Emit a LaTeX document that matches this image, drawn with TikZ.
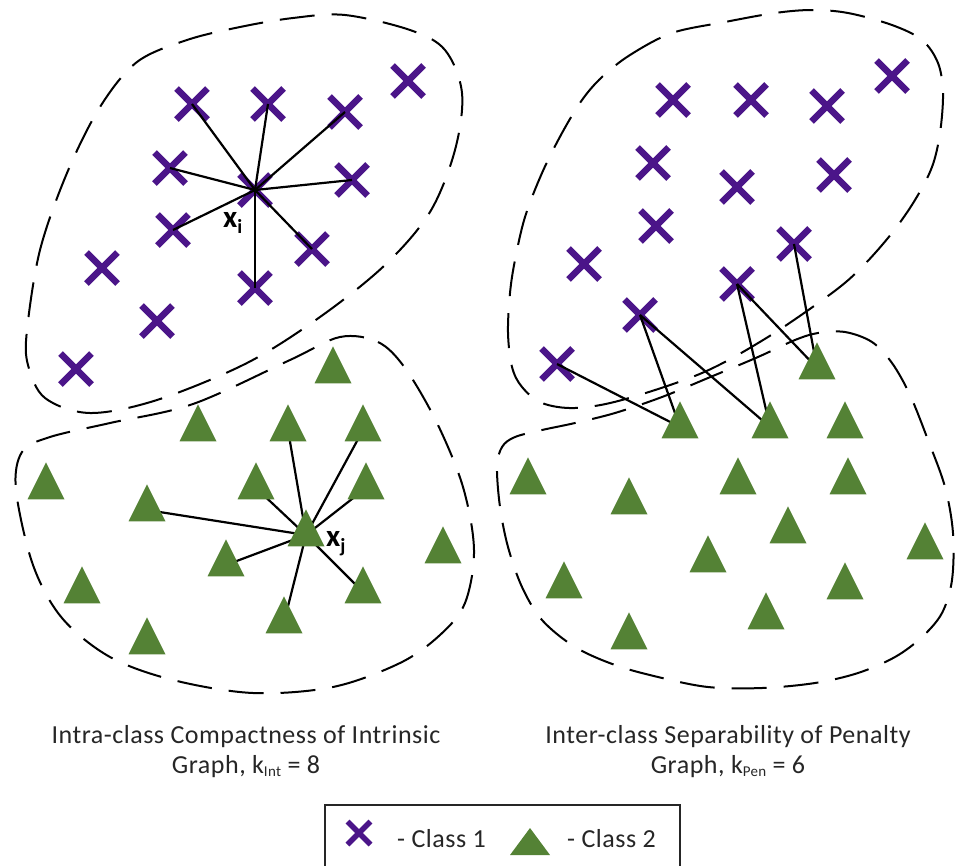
\documentclass[tikz,border=0pt]{standalone}
\usepackage{fontspec}
\setmainfont{Carlito}
\usetikzlibrary{shapes.misc,shapes.geometric}
\definecolor{classone}{HTML}{4B1589}
\definecolor{classtwo}{HTML}{548235}
\definecolor{inkgray}{HTML}{262626}
\pgfdeclarelayer{front}
\pgfsetlayers{main,front}

\begin{document}
\begin{tikzpicture}[x=1pt,y=-1pt,
  xmark/.style={cross out, draw=classone, line width=6.5pt, minimum size=31pt, inner sep=0pt, outer sep=0pt},
  tmark/.style={isosceles triangle, isosceles triangle stretches, shape border rotate=90,
    fill=classtwo, minimum width=37pt, minimum height=37pt, inner sep=0pt, outer sep=0pt},
  link/.style={draw=black, line width=2.2pt},
  region/.style={draw=black, line width=2pt, dash pattern=on 35pt off 17pt},
  caption/.style={font=\fontsize{26}{30}\selectfont\addfontfeature{LetterSpace=2}, text=inkgray, anchor=base, inner sep=0pt},
  ptlabel/.style={font=\fontsize{31}{31}\selectfont\bfseries, text=black, anchor=base west, inner sep=0pt},
  legtext/.style={font=\fontsize{26}{26}\selectfont\addfontfeature{LetterSpace=2}, text=inkgray, anchor=base west, inner sep=0pt}
]
\useasboundingbox (0,0) rectangle (955,865);
\clip (0,0) rectangle (955,865);

% ---- dashed class regions ----
\draw[region] plot[smooth cycle, tension=0.55] coordinates {
  (27,330) (40,250) (67,173) (100,107) (137,62) (187,40) (240,27) (293,18)
  (345,15) (410,30) (445,50) (462,93) (455,150) (430,212) (385,265) (320,317)
  (247,363) (157,400) (90,413) (45,398) (28,365)};
\draw[region] plot[smooth cycle, tension=0.55] coordinates {
  (340,337) (378,342) (405,368) (437,423) (463,487) (474,550) (465,603)
  (440,635) (400,663) (333,687) (253,693) (173,680) (110,657) (62,618)
  (33,565) (16,490) (22,452) (50,437) (110,423) (193,404) (290,360)};
\draw[region] plot[smooth cycle, tension=0.55] coordinates {
  (602,77) (630,55) (672,33) (725,22) (775,13) (812,10) (848,13) (892,25)
  (922,40) (938,63) (943,93) (940,133) (932,167) (915,200) (892,233)
  (862,267) (832,293) (768,337) (702,373) (622,400) (575,408) (542,403)
  (522,387) (512,367) (508,333) (510,293) (515,260) (525,217) (542,173)
  (562,133) (582,100)};
\draw[region] plot[smooth cycle, tension=0.55] coordinates {
  (818,333) (845,332) (872,342) (892,363) (910,395) (928,440) (945,487)
  (953,533) (952,580) (942,613) (922,637) (895,657) (858,673) (815,683)
  (762,688) (708,687) (658,677) (615,665) (575,647) (542,620) (522,587)
  (508,547) (500,507) (497,467) (502,447) (515,437) (542,430) (575,423)
  (615,413) (662,397) (708,378) (758,357) (795,340)};

% ---- class 1 samples, intrinsic graph ----
\node[xmark] (u1)  at (192,104) {};
\node[xmark] (u2)  at (268,104) {};
\node[xmark] (u3)  at (345,112) {};
\node[xmark] (u4)  at (408,81)  {};
\node[xmark] (u5)  at (170,168) {};
\node[xmark] (xi)  at (255,190) {};
\node[xmark] (u6)  at (352,180) {};
\node[xmark] (u7)  at (173,230) {};
\node[xmark] (u8)  at (312,249) {};
\node[xmark] (u9)  at (102,268) {};
\node[xmark] (u10) at (255,288) {};
\node[xmark] (u11) at (157,321) {};
\node[xmark] (u12) at (76,369)  {};

% ---- class 1 samples, penalty graph ----
\node[xmark] (r1)  at (673,100) {};
\node[xmark] (r2)  at (751,100) {};
\node[xmark] (r3)  at (827,106) {};
\node[xmark] (r4)  at (892,76)  {};
\node[xmark] (r5)  at (653,163) {};
\node[xmark] (r6)  at (737,187) {};
\node[xmark] (r7)  at (834,175) {};
\node[xmark] (r8)  at (656,226) {};
\node[xmark] (r9)  at (794,244) {};
\node[xmark] (r10) at (584,264) {};
\node[xmark] (r11) at (737,284) {};
\node[xmark] (r12) at (640,315) {};
\node[xmark] (r13) at (557,364) {};

% ---- class 2 samples (drawn above the edges) ----
\begin{pgfonlayer}{front}
\node[tmark] (l1)  at (333,372) {};
\node[tmark] (l2)  at (198,430) {};
\node[tmark] (l3)  at (288,430) {};
\node[tmark] (l4)  at (363,430) {};
\node[tmark] (l5)  at (46,488)  {};
\node[tmark] (l6)  at (256,488) {};
\node[tmark] (l7)  at (366,488) {};
\node[tmark] (l8)  at (147,510) {};
\node[tmark] (xj)  at (306,535) {};
\node[tmark] (l9)  at (443,552) {};
\node[tmark] (l10) at (226,565) {};
\node[tmark] (l11) at (82,592)  {};
\node[tmark] (l12) at (363,592) {};
\node[tmark] (l13) at (284,622) {};
\node[tmark] (l14) at (147,643) {};

\node[tmark] (s1)  at (817,368) {};
\node[tmark] (s2)  at (680,427) {};
\node[tmark] (s3)  at (770,427) {};
\node[tmark] (s4)  at (845,427) {};
\node[tmark] (s5)  at (528,483) {};
\node[tmark] (s6)  at (738,483) {};
\node[tmark] (s7)  at (848,483) {};
\node[tmark] (s8)  at (629,503) {};
\node[tmark] (s9)  at (788,532) {};
\node[tmark] (s10) at (925,548) {};
\node[tmark] (s11) at (708,561) {};
\node[tmark] (s12) at (564,587) {};
\node[tmark] (s13) at (845,588) {};
\node[tmark] (s14) at (766,618) {};
\node[tmark] (s15) at (629,638) {};
\end{pgfonlayer}

% ---- intrinsic graph edges, k = 8 ----
\foreach \n in {u1,u2,u3,u5,u6,u7,u8,u10}
  \draw[link] (xi.center) -- (\n.center);
\foreach \n in {l3,l4,l6,l7,l8,l10,l12,l13}
  \draw[link] (xj.center) -- (\n.center);

% ---- penalty graph edges, k = 6 ----
\draw[link] (r13.center) -- (s2.center);
\draw[link] (r12.center) -- (s2.center);
\draw[link] (r12.center) -- (s3.center);
\draw[link] (r11.center) -- (s3.center);
\draw[link] (r11.center) -- (s1.center);
\draw[link] (r9.center)  -- (s1.center);

% ---- point labels ----
\node[ptlabel] (lbli) at (223,227) {x\raisebox{-6pt}{\fontsize{20}{20}\selectfont\bfseries i}};
\node[ptlabel] (lblj) at (326,546) {x\raisebox{-6pt}{\fontsize{20}{20}\selectfont\bfseries j}};

% ---- captions ----
\node[caption] (capL1) at (246,743) {Intra-class Compactness of Intrinsic};
\node[caption] (capL2) at (246,773) {Graph, k\raisebox{-3pt}{\fontsize{15}{15}\selectfont Int} = 8};
\node[caption] (capR1) at (728,743) {Inter-class Separability of Penalty};
\node[caption] (capR2) at (728,773) {Graph, k\raisebox{-3pt}{\fontsize{15}{15}\selectfont Pen} = 6};

% ---- legend ----
\draw[draw=inkgray, line width=1.5pt] (325,805) rectangle (680,880);
\node[xmark, line width=5.5pt, minimum size=23pt] (legx) at (359,833) {};
\node[legtext] (leg1) at (397,847) {- Class 1};
\fill[classtwo] (510,855) -- (530,828) -- (550,855) -- cycle;
\node[legtext] (leg2) at (567,847) {- Class 2};
\end{tikzpicture}
\end{document}
